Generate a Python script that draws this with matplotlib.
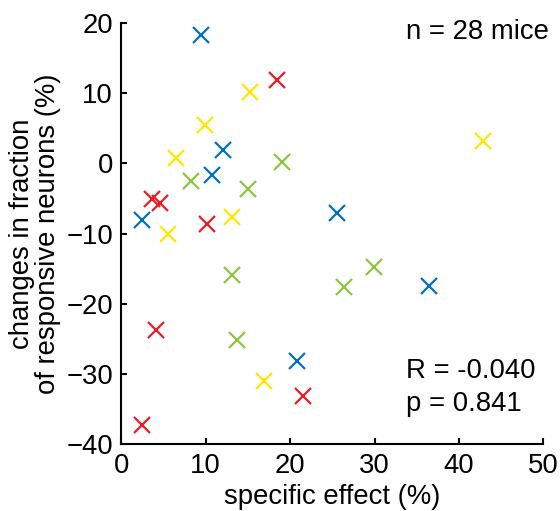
import numpy as np
import matplotlib.pyplot as plt

plt.rcParams['font.family'] = ['Liberation Sans', 'DejaVu Sans']

# specific effect (%) vs change in fraction of responsive neurons (%)
blue_x = [9.45, 12.1, 10.8, 2.5, 20.8, 25.6, 36.5]
blue_y = [18.2, 1.9, -1.6, -8.1, -28.1, -7.1, -17.5]
red_x = [18.5, 3.6, 4.6, 10.1, 4.1, 21.5, 2.5]
red_y = [11.9, -5.1, -5.6, -8.7, -23.8, -33.1, -37.2]
yellow_x = [15.2, 9.9, 6.5, 13.1, 5.5, 16.9, 42.9]
yellow_y = [10.2, 5.4, 0.8, -7.6, -10.0, -31.0, 3.1]
green_x = [19.0, 8.2, 15.0, 13.1, 13.7, 29.9, 26.4]
green_y = [0.14, -2.5, -3.7, -15.9, -25.1, -14.7, -17.6]

xticks = [0, 10, 20, 30, 40, 50]
yticks = [-40, -30, -20, -10, 0, 10, 20]

fig = plt.figure(figsize=(5.6, 5.11), dpi=100)
ax = fig.add_axes([0.2166, 0.1305, 0.7536, 0.8250])

groups = [(blue_x, blue_y, '#0072BD'), (red_x, red_y, '#ED1C24'),
          (yellow_x, yellow_y, '#FFE800'), (green_x, green_y, '#8CC63F')]
for gx, gy, c in groups:
    ax.plot(gx, gy, 'x', color=c, markersize=12, markeredgewidth=1.6)

ax.set_xlim(0, 50)
ax.set_ylim(-40, 20)
ax.set_xticks(xticks)
ax.set_yticks(yticks)
ax.spines['top'].set_visible(False)
ax.spines['right'].set_visible(False)
for s in ['left', 'bottom']:
    ax.spines[s].set_linewidth(1.5)
ax.tick_params(direction='in', length=4.5, width=1.5, labelsize=19.8, pad=6)

ax.set_xlabel('specific effect (%)', fontsize=19.8, labelpad=4)
ax.set_ylabel('changes in fraction\nof responsive neurons (%)', fontsize=19.8,
              labelpad=4, linespacing=1.0)

ax.text(50.7, 17.75, 'n = 28 mice', fontsize=19.8, ha='right', va='baseline',
        clip_on=False)
ax.text(33.7, -30.5, 'R = -0.040', fontsize=19.8, ha='left', va='baseline')
ax.text(33.7, -35.2, 'p = 0.841', fontsize=19.8, ha='left', va='baseline')

fig.savefig('out.png', dpi=100)
